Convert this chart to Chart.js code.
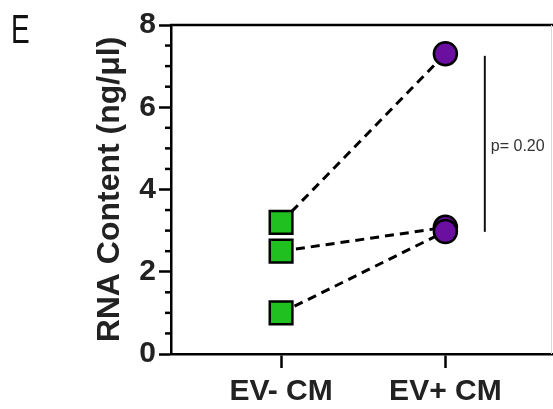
<!DOCTYPE html>
<html>
<head>
<meta charset="utf-8">
<script src="https://cdn.jsdelivr.net/npm/chart.js@4/dist/chart.umd.min.js"></script>
<style>
  body { margin: 0; background: #fff; }
  canvas { display: block; }
</style>
</head>
<body>
<canvas id="myChart" width="553" height="409"></canvas>
<script>
// data
var categories = ["EV- CM", "EV+ CM"];
var evMinus = [3.2, 2.5, 1.0];   // squares
var evPlus = [7.3, 3.08, 2.98];  // circles, paired by index
var yTicks = [0, 2, 4, 6, 8];
var pText = "p= 0.20";
var pRange = [2.97, 7.25];

var FONT = "'Liberation Sans', Arial, sans-serif";

var datasets = [];
// dashed lines joining each pair
evMinus.forEach(function(v, i) {
  datasets.push({
    data: [{ x: 0, y: v }, { x: 1, y: evPlus[i] }],
    showLine: true,
    borderColor: "#000",
    borderWidth: 3,
    borderDash: [9, 6],
    pointRadius: 0,
    order: 3
  });
});
datasets.push({
  data: evMinus.map(function(v) { return { x: 0, y: v }; }),
  pointStyle: "rect",
  pointRadius: 16,
  backgroundColor: "#1fc01f",
  borderColor: "#000",
  borderWidth: 2.5,
  order: 1
});
datasets.push({
  data: evPlus.map(function(v) { return { x: 1, y: v }; }),
  pointStyle: "circle",
  pointRadius: 11.5,
  backgroundColor: "#6a0fa0",
  borderColor: "#000",
  borderWidth: 2.5,
  order: 2
});

var extras = {
  id: "extras",
  afterDraw: function(chart) {
    var ctx = chart.ctx;
    var a = chart.chartArea;
    var xs = chart.scales.x, ys = chart.scales.y;
    ctx.save();
    ctx.strokeStyle = "#000";
    ctx.lineWidth = 2.5;
    // top frame line
    ctx.beginPath();
    ctx.moveTo(a.left - 1, a.top);
    ctx.lineTo(a.right, a.top);
    ctx.stroke();
    // minor ticks every 0.5
    for (var v = 0.5; v < 8; v += 0.5) {
      if (v % 2 === 0) continue;
      var py = ys.getPixelForValue(v);
      ctx.beginPath();
      ctx.moveTo(a.left - 6, py);
      ctx.lineTo(a.left, py);
      ctx.stroke();
    }
    // faint right edge
    ctx.strokeStyle = "#d8d8d8";
    ctx.lineWidth = 1;
    ctx.beginPath();
    ctx.moveTo(a.right - 1.5, a.top);
    ctx.lineTo(a.right - 1.5, a.bottom);
    ctx.stroke();
    // p-value bracket
    var bx = xs.getPixelForValue(1.24);
    var y1 = ys.getPixelForValue(pRange[1]);
    var y2 = ys.getPixelForValue(pRange[0]);
    ctx.strokeStyle = "#111";
    ctx.lineWidth = 2;
    ctx.beginPath();
    ctx.moveTo(bx, y1);
    ctx.lineTo(bx, y2);
    ctx.stroke();
    ctx.fillStyle = "#333";
    ctx.font = "16px " + FONT;
    ctx.textBaseline = "middle";
    ctx.fillText(pText, bx + 6, (y1 + y2) / 2 + 3);
    // panel letter
    ctx.translate(11, 43);
    ctx.scale(0.7, 1);
    ctx.fillStyle = "#111";
    ctx.font = "40px " + FONT;
    ctx.textBaseline = "alphabetic";
    ctx.fillText("E", 0, 0);
    ctx.restore();
  }
};

var ctx = document.getElementById("myChart").getContext("2d");
var myChart = new Chart(ctx, {
  type: "scatter",
  data: { datasets: datasets },
  options: {
    responsive: false,
    animation: false,
    layout: {
      autoPadding: false,
      padding: { left: 91, top: 25, right: 0, bottom: 0 }
    },
    plugins: { legend: { display: false }, tooltip: { enabled: false } },
    scales: {
      x: {
        type: "linear",
        min: -0.67,
        max: 1.655,
        afterBuildTicks: function(s) {
          s.ticks = categories.map(function(c, i) { return { value: i }; });
        },
        afterFit: function(s) {
          s.height = 55;
          s.paddingLeft = 0;
          s.paddingRight = 0;
        },
        grid: {
          drawOnChartArea: false,
          tickLength: 14,
          tickWidth: 2.5,
          tickColor: "#000"
        },
        border: { color: "#000", width: 2.5 },
        ticks: {
          padding: 6,
          color: "#222",
          font: { family: FONT, size: 30, weight: "bold" },
          callback: function(v) { return categories[v]; }
        }
      },
      y: {
        min: 0,
        max: 8,
        afterBuildTicks: function(s) {
          s.ticks = yTicks.map(function(t) { return { value: t }; });
        },
        afterFit: function(s) {
          s.width = 80;
          s.paddingTop = 0;
          s.paddingBottom = 0;
        },
        grid: {
          drawOnChartArea: false,
          tickLength: 12,
          tickWidth: 2.5,
          tickColor: "#000"
        },
        border: { color: "#000", width: 2.5 },
        ticks: {
          padding: 3,
          color: "#222",
          font: { family: FONT, size: 30, weight: "bold" }
        },
        title: {
          display: true,
          text: "RNA Content (ng/\u03bcl)",
          color: "#222",
          padding: 0,
          font: { family: FONT, size: 32, weight: "bold" }
        }
      }
    }
  },
  plugins: [extras]
});
</script>
</body>
</html>
